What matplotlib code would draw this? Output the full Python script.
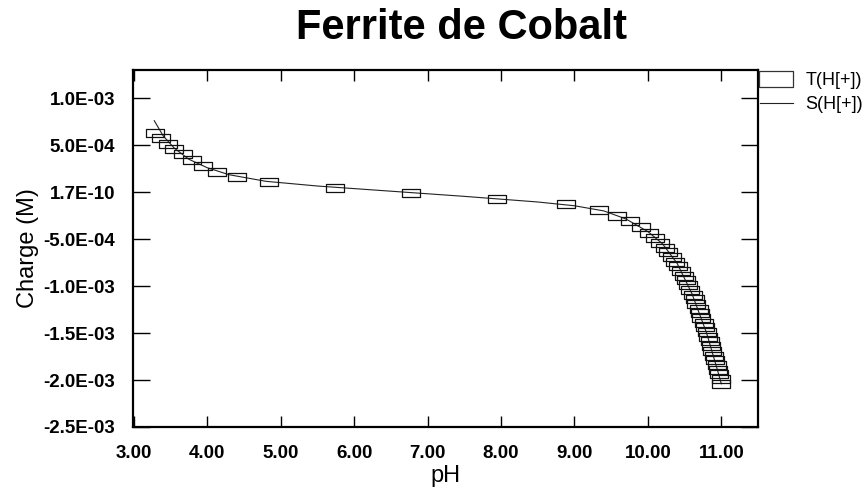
import matplotlib
matplotlib.use("Agg")
import matplotlib.pyplot as plt
from matplotlib.path import Path
from matplotlib.lines import Line2D

plt.rcParams['font.family'] = ['Liberation Sans', 'DejaVu Sans']

# points de titrage T(H[+])
ph_pts = [3.29, 3.37, 3.46, 3.55, 3.67, 3.79, 3.94, 4.14, 4.41, 4.84,
          5.74, 6.78, 7.95, 8.88, 9.33, 9.58, 9.76, 9.90, 10.02, 10.10,
          10.17, 10.23, 10.28, 10.33, 10.37, 10.41, 10.45, 10.49, 10.52, 10.55,
          10.58, 10.61, 10.64, 10.66, 10.69, 10.71, 10.73, 10.76, 10.78, 10.80,
          10.82, 10.84, 10.86, 10.88, 10.90, 10.92, 10.94, 10.96, 10.97, 10.99,
          11.00]
charge_pts = [6.32e-4, 5.79e-4, 5.15e-4, 4.61e-4, 4.03e-4, 3.40e-4, 2.81e-4, 2.18e-4, 1.58e-4, 1.06e-4,
              4.5e-5, -1.4e-5, -7.5e-5, -1.31e-4, -1.89e-4, -2.53e-4, -3.11e-4, -3.70e-4, -4.36e-4, -4.90e-4,
              -5.40e-4, -5.90e-4, -6.40e-4, -6.90e-4, -7.40e-4, -7.90e-4, -8.40e-4, -8.90e-4, -9.40e-4, -9.90e-4,
              -1.04e-3, -1.09e-3, -1.14e-3, -1.19e-3, -1.24e-3, -1.29e-3, -1.34e-3, -1.39e-3, -1.44e-3, -1.49e-3,
              -1.54e-3, -1.59e-3, -1.64e-3, -1.69e-3, -1.74e-3, -1.79e-3, -1.84e-3, -1.89e-3, -1.94e-3, -1.99e-3,
              -2.04e-3]

# courbe simulée S(H[+])
ph_fit = [3.28, 3.40, 3.55, 3.75, 4.00, 4.30, 4.80, 5.50, 6.50, 7.50,
          8.50, 9.00, 9.40, 9.70, 10.00, 10.20, 10.40, 10.60, 10.80, 10.95, 11.00]
charge_fit = [7.6e-4, 6.0e-4, 4.7e-4, 3.5e-4, 2.6e-4, 1.85e-4, 1.15e-4, 6.5e-5, 1.0e-5, -4.5e-5,
              -1.05e-4, -1.45e-4, -2.0e-4, -2.85e-4, -4.2e-4, -5.5e-4, -7.6e-4, -1.08e-3, -1.5e-3, -1.9e-3, -2.04e-3]

x_ticks = [3, 4, 5, 6, 7, 8, 9, 10, 11]
y_ticks = [1.0e-3, 5.0e-4, 1.7e-10, -5.0e-4, -1.0e-3, -1.5e-3, -2.0e-3, -2.5e-3]
y_labels = ["1.0E-03", "5.0E-04", "1.7E-10", "-5.0E-04", "-1.0E-03", "-1.5E-03", "-2.0E-03", "-2.5E-03"]

# marqueur rectangulaire (plus large que haut)
rect = Path([(-1, -0.47), (1, -0.47), (1, 0.47), (-1, 0.47), (-1, -0.47)],
            [Path.MOVETO, Path.LINETO, Path.LINETO, Path.LINETO, Path.CLOSEPOLY])

fig = plt.figure(figsize=(8.67, 4.95), dpi=100)
ax = fig.add_axes([0.1534, 0.1374, 0.7209, 0.7212])

ax.plot(ph_fit, charge_fit, color="#222222", lw=0.8)
ax.plot(ph_pts, charge_pts, ls="none", marker=rect, ms=13, mfc="none",
        mec="#111111", mew=0.9)

ax.set_xlim(2.99, 11.5)
ax.set_ylim(-2.5e-3, 1.3e-3)
ax.set_xticks(x_ticks)
ax.set_xticklabels(["%.2f" % v for v in x_ticks])
ax.set_yticks(y_ticks)
ax.set_yticklabels(y_labels)

ax.tick_params(axis="both", direction="in", top=True, right=True, width=1.0,
               labelsize=13.5, pad=13)
ax.tick_params(axis="y", length=12.5)
ax.tick_params(axis="x", length=8)
for lbl in ax.get_xticklabels() + ax.get_yticklabels():
    lbl.set_fontweight("bold")
for sp in ax.spines.values():
    sp.set_linewidth(1.6)

ax.set_xlabel("pH", fontsize=17, labelpad=2)
ax.set_ylabel("Charge (M)", fontsize=17, labelpad=3)

fig.text(0.532, 1 - 28 / 495, "Ferrite de Cobalt", fontsize=30, fontweight="bold",
         ha="center", va="center")

handles = [
    Line2D([], [], ls="none", marker=rect, ms=24, mfc="none", mec="#333333", mew=0.9),
    Line2D([], [], color="#222222", lw=0.8),
]
fig.legend(handles, ["T(H[+])", "S(H[+])"], loc="upper left",
           bbox_to_anchor=(760 / 867, 1 - 72 / 495), frameon=False,
           fontsize=13, handlelength=1.8, handletextpad=0.7, labelspacing=0.4,
           borderaxespad=0, borderpad=0)

fig.savefig("out.png", dpi=100)
